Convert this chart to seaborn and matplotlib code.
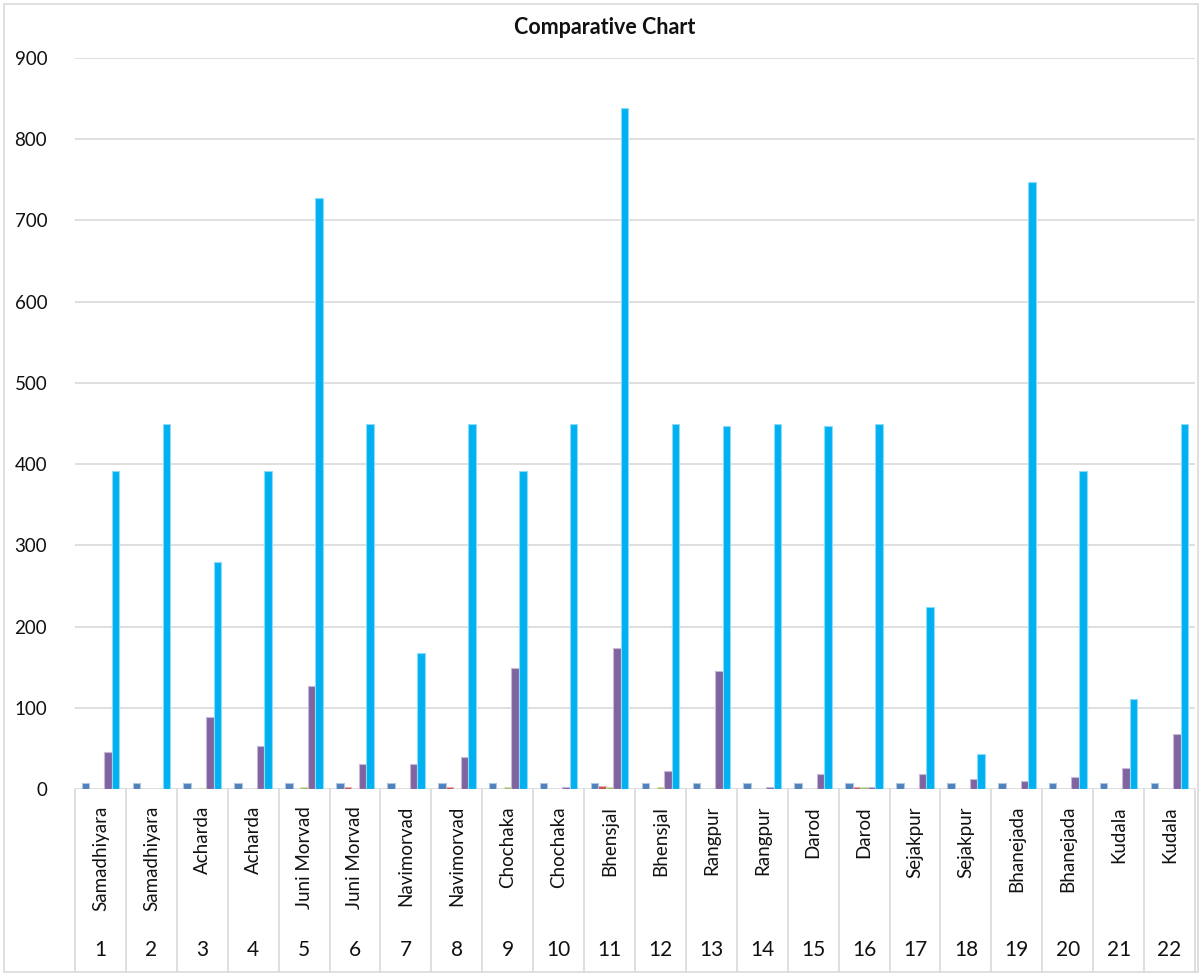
import matplotlib
matplotlib.use("Agg")
import matplotlib.pyplot as plt
import matplotlib.colors as mcolors
from matplotlib.patches import Rectangle
from matplotlib.transforms import blended_transform_factory
import numpy as np
import pandas as pd
import seaborn as sns

# Villages (two rows per village) and their serial numbers
villages = ["Samadhiyara", "Samadhiyara", "Acharda", "Acharda", "Juni Morvad",
            "Juni Morvad", "Navimorvad", "Navimorvad", "Chochaka", "Chochaka",
            "Bhensjal", "Bhensjal", "Rangpur", "Rangpur", "Darod", "Darod",
            "Sejakpur", "Sejakpur", "Bhanejada", "Bhanejada", "Kudala", "Kudala"]
serials = [str(i) for i in range(1, 23)]

# Five measured series per sample
series_a = [7, 7, 7, 7, 7, 7, 7, 7, 7, 7, 7, 7, 7, 7, 7, 7, 7, 7, 7, 7, 7, 7]
series_b = [0, 0, 0, 0, 0, 2, 0, 2, 0, 0, 4, 0, 0, 0, 0, 3, 0, 0, 0, 0, 0, 0]
series_c = [0, 0, 1.5, 0, 2, 0, 0, 0, 2, 0, 2, 2, 0, 0, 0, 2, 0, 0, 0, 0, 0, 0]
series_d = [46, 0, 89, 53, 127, 31, 31, 40, 149, 3, 173, 22, 145, 3, 18, 3,
            19, 12, 10, 15, 26, 68]
series_e = [392, 450, 279, 392, 728, 450, 168, 450, 392, 450, 839, 450, 447,
            450, 447, 450, 224, 43, 747, 392, 111, 450]

series_names = ["A", "B", "C", "D", "E"]
series_colors = ["#4F81BD", "#C0504D", "#9BBB59", "#8064A2", "#00B0F0"]
y_ticks = [0, 100, 200, 300, 400, 500, 600, 700, 800, 900]

records = []
for name, vals in zip(series_names, [series_a, series_b, series_c, series_d, series_e]):
    for s, v in zip(serials, vals):
        records.append({"sample": s, "series": name, "value": v})
df = pd.DataFrame(records)

sns.set_theme(style="white")
plt.rcParams["font.family"] = ["Lato", "DejaVu Sans"]

W, H = 1202, 976
fig = plt.figure(figsize=(W / 100, H / 100), dpi=100)
left, right, top, bottom = 75, 1195, 58, 789
ax = fig.add_axes([left / W, 1 - bottom / H, (right - left) / W, (bottom - top) / H])

grid_color = "#D9D9D9"
ax.set_axisbelow(True)
for t in y_ticks:
    ax.axhline(t, color=grid_color, lw=1.2, zorder=0)

sns.barplot(data=df, x="sample", y="value", hue="series", order=serials,
            hue_order=series_names, palette=series_colors, width=0.74,
            saturation=1, legend=False, ax=ax, zorder=3)

# light outline on every bar
for patch in ax.patches:
    fc = np.array(mcolors.to_rgb(patch.get_facecolor()))
    patch.set_edgecolor(tuple(fc + (1 - fc) * 0.55))
    patch.set_linewidth(0.8)

ax.set_ylim(0, 900)
ax.set_xlim(-0.5, len(serials) - 0.5)
ax.set_yticks(y_ticks)
ax.set_yticklabels([str(t) for t in y_ticks], fontsize=13.5, color="#111111")
ax.tick_params(axis="y", length=0, pad=20)
ax.set_xticks([])
ax.set_xlabel("")
ax.set_ylabel("")
for sp in ["left", "right", "top", "bottom"]:
    ax.spines[sp].set_visible(False)

# two-level category axis: village name above serial number
trans = blended_transform_factory(ax.transData, fig.transFigure)
line_bottom = 1 - 972 / H
for i in range(len(serials) + 1):
    ax.plot([i - 0.5, i - 0.5], [1 - bottom / H, line_bottom], transform=trans,
            color=grid_color, lw=1.2, clip_on=False)
for i, (v, s) in enumerate(zip(villages, serials)):
    ax.text(i, 1 - 806 / H, v, transform=trans, rotation=90, ha="center",
            va="top", fontsize=13.5, color="#111111")
    ax.text(i, 1 - 950 / H, s, transform=trans, ha="center", va="center",
            fontsize=15, color="#111111")

fig.text(605 / W, 1 - 28 / H, "Comparative Chart", ha="center", va="center",
         fontsize=15.5, fontweight="bold", color="#111111")

fig.add_artist(Rectangle((4 / W, 4 / H), (W - 8) / W, (H - 8) / H,
                         transform=fig.transFigure, fill=False,
                         edgecolor=grid_color, lw=1.2))

fig.savefig("out.png", dpi=100)
